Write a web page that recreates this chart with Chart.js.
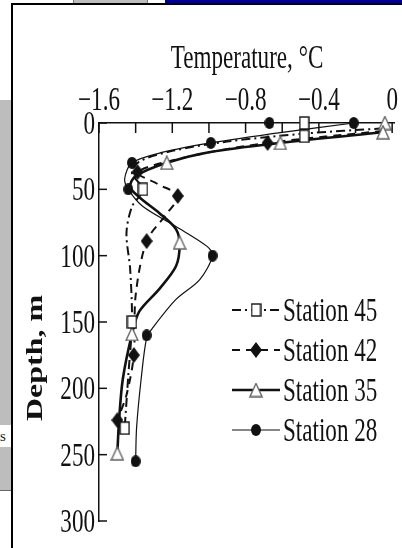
<!DOCTYPE html>
<html>
<head>
<meta charset="utf-8">
<script src="https://cdn.jsdelivr.net/npm/chart.js@4.4.1/dist/chart.umd.min.js"></script>
<style>
  html, body { margin: 0; padding: 0; background: #fff; }
  #wrap { position: relative; width: 402px; height: 548px; overflow: hidden; }
  .deco { position: absolute; }
  #grafico { position: absolute; left: 0; top: 0; }
</style>
</head>
<body>
<div id="wrap">
  <div class="deco" style="left:0;top:100px;width:11px;height:390px;background:#bdbdbd;"></div>
  <div class="deco" style="left:0;top:425px;width:11px;height:22px;background:#fff;font:15px 'Liberation Serif';line-height:22px;color:#222;">s</div>
  <div class="deco" style="left:0;top:490px;width:11px;height:1px;background:#666;"></div>
  <div class="deco" style="left:73px;top:0;width:73px;height:4px;background:#bdbdbd;border-left:1px solid #777;border-right:1px solid #777;"></div>
  <div class="deco" style="left:165px;top:0;width:237px;height:3px;background:#000096;"></div>
  <div class="deco" style="left:11px;top:3px;width:391px;height:2px;background:#000;"></div>
  <div class="deco" style="left:11px;top:3px;width:2px;height:545px;background:#000;"></div>
  <canvas id="grafico" width="402" height="548"></canvas>
</div>
<script>
// measured points [temperature, depth]
const marks45 = [[-0.48, 0], [-0.48, 10], [-1.36, 50], [-1.42, 150], [-1.46, 230]];
const marks42 = [[-0.68, 15], [-1.39, 37], [-1.17, 55], [-1.34, 89], [-1.41, 175], [-1.50, 224]];
const marks35 = [[-0.04, 0], [-0.05, 7], [-0.61, 15], [-1.23, 30], [-1.16, 90], [-1.42, 159], [-1.50, 249]];
const marks28 = [[-0.67, 0], [-0.21, 0], [-0.99, 15], [-1.42, 30], [-1.44, 50], [-0.98, 100], [-1.34, 160], [-1.40, 255]];

// fitted curves
const curve45 = [[-0.05, 4], [-0.48, 8], [-0.9, 14], [-1.2, 21], [-1.38, 29], [-1.42, 38], [-1.36, 50], [-1.42, 63],
                 [-1.45, 83], [-1.43, 110], [-1.42, 150], [-1.44, 190], [-1.46, 230]];
const curve42 = [[-0.05, 6], [-0.68, 15], [-1.1, 25], [-1.39, 37], [-1.28, 46], [-1.17, 55], [-1.24, 70], [-1.34, 89],
                 [-1.40, 130], [-1.41, 175], [-1.45, 205], [-1.50, 224]];
const curve35 = [[-0.05, 7], [-0.61, 15], [-1.0, 22], [-1.23, 30], [-1.40, 40], [-1.43, 48], [-1.38, 56], [-1.27, 68],
                 [-1.18, 80], [-1.16, 92], [-1.18, 108], [-1.27, 125], [-1.38, 142], [-1.42, 159], [-1.47, 193],
                 [-1.49, 223], [-1.50, 249]];
const curve28 = [[-0.21, 0], [-0.60, 7], [-0.99, 15], [-1.25, 22], [-1.42, 30], [-1.46, 42], [-1.44, 50], [-1.36, 63],
                 [-1.18, 78], [-1.01, 93], [-0.98, 100], [-1.05, 118], [-1.18, 133], [-1.31, 155], [-1.34, 162],
                 [-1.37, 193], [-1.395, 230], [-1.40, 255]];

const stations = ['Station 45', 'Station 42', 'Station 35', 'Station 28'];

const xTicks = [-1.6, -1.4, -1.2, -1.0, -0.8, -0.6, -0.4, -0.2, 0];
const xTickLabels = ['\u22121.6', '', '\u22121.2', '', '\u22120.8', '', '\u22120.4', '', '0'];
const yTicks = [0, 50, 100, 150, 200, 250, 300];
const yTickLabels = ['0', '50', '100', '150', '200', '250', '300'];

const xTitle = 'Temperature, \u00b0C';
const yTitle = 'Depth, m';

const pts = arr => arr.map(p => ({ x: p[0], y: p[1] }));

// small canvases used as point styles (figure is squeezed horizontally)
function marker(w, h, draw) {
    const c = document.createElement('canvas');
    c.width = w;
    c.height = h;
    draw(c.getContext('2d'), w, h);
    return c;
}
const square = marker(11, 14, (c, w, h) => {
    c.fillStyle = '#fff';
    c.fillRect(1, 1, w - 2, h - 2);
    c.strokeStyle = '#111';
    c.lineWidth = 1.4;
    c.strokeRect(1, 1, w - 2, h - 2);
});
const diamond = marker(12, 16, (c, w, h) => {
    c.fillStyle = '#111';
    c.beginPath();
    c.moveTo(w / 2, 0); c.lineTo(w, h / 2); c.lineTo(w / 2, h); c.lineTo(0, h / 2);
    c.closePath();
    c.fill();
});
const triangle = marker(14, 15, (c, w, h) => {
    c.fillStyle = '#fff';
    c.strokeStyle = '#666';
    c.lineWidth = 1.4;
    c.beginPath();
    c.moveTo(w / 2, 1); c.lineTo(w - 1, h - 1); c.lineTo(1, h - 1);
    c.closePath();
    c.fill();
    c.stroke();
});
const circle = marker(10, 12, (c, w, h) => {
    c.fillStyle = '#111';
    c.beginPath();
    c.ellipse(w / 2, h / 2, w / 2, h / 2, 0, 0, Math.PI * 2);
    c.fill();
});

const styles = [
    { img: square, dash: [9, 4, 2, 4], width: 2 },
    { img: diamond, dash: [8, 6], width: 2 },
    { img: triangle, dash: [], width: 2.6 },
    { img: circle, dash: [], width: 1.2 }
];
const curves = [curve45, curve42, curve35, curve28];
const marks = [marks45, marks42, marks35, marks28];

const squeeze = 0.7;
const font = "33px 'Liberation Serif'";

function text(ctx, str, x, y, align, f) {
    ctx.save();
    ctx.translate(x, y);
    ctx.scale(squeeze, 1);
    ctx.font = f;
    ctx.textAlign = align;
    ctx.textBaseline = 'alphabetic';
    ctx.fillStyle = '#111';
    ctx.fillText(str, 0, 0);
    ctx.restore();
}

const axesPlugin = {
    id: 'axesPlugin',
    afterDraw(chart) {
        const ctx = chart.ctx;
        const sx = chart.scales.x;
        const sy = chart.scales.y;
        const area = chart.chartArea;
        ctx.save();
        ctx.strokeStyle = '#111';
        ctx.lineWidth = 1.5;
        xTicks.forEach((v, i) => {
            const px = sx.getPixelForValue(v);
            ctx.beginPath();
            ctx.moveTo(px, area.top);
            ctx.lineTo(px, area.top + 10);
            ctx.stroke();
            if (xTickLabels[i]) text(ctx, xTickLabels[i], px, 110, 'center', font);
        });
        yTicks.forEach((v, i) => {
            const py = sy.getPixelForValue(v);
            ctx.beginPath();
            ctx.moveTo(area.left, py);
            ctx.lineTo(area.left + 8, py);
            ctx.stroke();
            text(ctx, yTickLabels[i], 95, py + 11, 'right', font);
        });
        text(ctx, xTitle, 247, 68, 'center', font);

        // rotated y title
        ctx.save();
        ctx.translate(42, 358);
        ctx.rotate(-Math.PI / 2);
        ctx.scale(1, squeeze);
        ctx.font = "bold 32px 'Liberation Serif'";
        ctx.textAlign = 'center';
        ctx.textBaseline = 'alphabetic';
        ctx.fillStyle = '#111';
        ctx.fillText(yTitle, 0, 0);
        ctx.restore();

        // legend
        stations.forEach((name, i) => {
            const y = 310 + i * 40;
            const st = styles[i];
            ctx.save();
            ctx.strokeStyle = '#111';
            ctx.lineWidth = st.width;
            ctx.setLineDash(st.dash);
            ctx.beginPath();
            ctx.moveTo(232, y);
            ctx.lineTo(280, y);
            ctx.stroke();
            ctx.restore();
            ctx.drawImage(st.img, 256 - st.img.width / 2, y - st.img.height / 2);
            text(ctx, name, 283, y + 11, 'left', font);
        });
        ctx.restore();
    }
};

const datasets = [];
stations.forEach((name, i) => {
    datasets.push({
        label: name,
        data: pts(marks[i]),
        showLine: false,
        pointStyle: styles[i].img,
        pointRadius: 5,
        clip: false,
        order: 0
    });
    datasets.push({
        label: name + ' fit',
        data: pts(curves[i]),
        showLine: true,
        pointRadius: 0,
        borderColor: '#111',
        borderWidth: styles[i].width,
        borderDash: styles[i].dash,
        tension: 0.3,
        fill: false,
        clip: false,
        order: 1
    });
});

new Chart(document.getElementById('grafico'), {
    type: 'scatter',
    data: { datasets: datasets },
    options: {
        responsive: false,
        animation: false,
        devicePixelRatio: 1,
        events: [],
        layout: {
            padding: { top: 123, left: 99, right: 8, bottom: 27 }
        },
        plugins: {
            legend: { display: false },
            tooltip: { enabled: false }
        },
        scales: {
            x: {
                type: 'linear',
                position: 'top',
                min: -1.6,
                max: 0.01,
                ticks: { display: false },
                grid: { display: false, drawTicks: false },
                border: { display: true, color: '#111', width: 1.5 }
            },
            y: {
                type: 'linear',
                reverse: true,
                min: 0,
                max: 300,
                ticks: { display: false },
                grid: { display: false, drawTicks: false },
                border: { display: true, color: '#111', width: 1.5 }
            }
        }
    },
    plugins: [axesPlugin]
});
</script>
</body>
</html>
